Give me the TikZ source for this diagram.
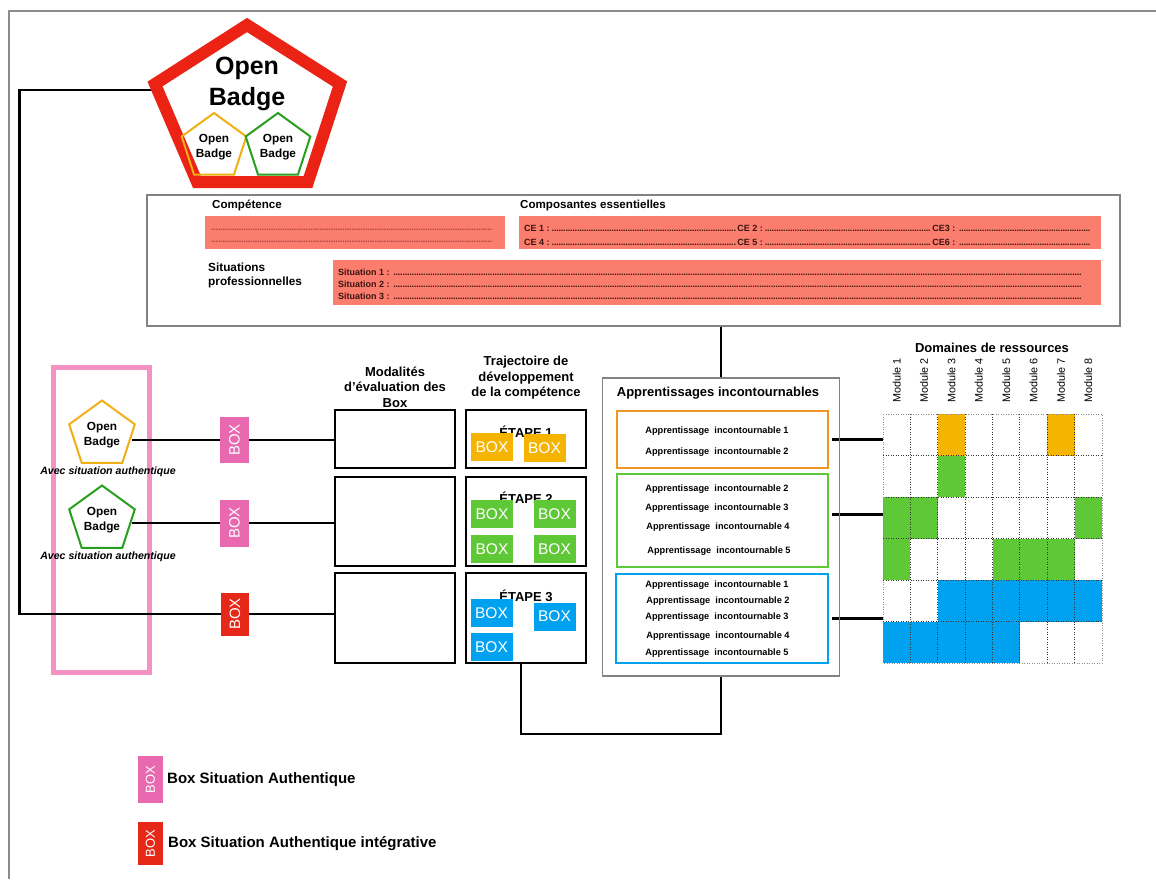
\documentclass[tikz,border=0pt]{standalone}
\usepackage{fontspec}
\setmainfont{Liberation Sans}
\usetikzlibrary{shapes.geometric,calc,backgrounds}
\definecolor{salmon}{RGB}{250,125,110}
\definecolor{bigred}{RGB}{235,35,20}
\definecolor{boxred}{RGB}{230,40,25}
\definecolor{pinkbox}{RGB}{232,105,175}
\definecolor{pinkframe}{RGB}{246,145,195}
\definecolor{ambr}{RGB}{245,180,0}
\definecolor{ybord}{RGB}{240,175,20}
\definecolor{grn}{RGB}{95,200,55}
\definecolor{gbord}{RGB}{40,160,30}
\definecolor{blu}{RGB}{0,162,240}
\definecolor{orbord}{RGB}{242,150,35}
\definecolor{gframe}{RGB}{130,130,130}
\definecolor{cetext}{RGB}{60,20,15}
\definecolor{lightdots}{RGB}{170,70,60}
\newcommand\dts{\leaders\hbox to 2.3pt{\hss.\hss}\hfill}
\begin{document}
\begin{tikzpicture}[x=1pt,y=-1pt,
  conn/.style={line width=2.2pt, black},
  badgeP/.style={regular polygon, regular polygon sides=5, minimum size=68pt, inner sep=0pt, line width=2pt, align=center, font=\fontsize{11.8}{15}\selectfont\bfseries},
  vbox/.style={rotate=90, inner sep=0pt, text=white, font=\fontsize{15}{15}\selectfont},
  smallbox/.style={minimum width=42pt, minimum height=28pt, inner sep=0pt, text=white, font=\fontsize{15.5}{15}\selectfont},
  blackbox/.style={draw=black, line width=2pt, inner sep=0pt, minimum width=120pt},
  greybox/.style={draw=gframe, line width=1.5pt, inner sep=0pt},
  lbl/.style={align=center, font=\fontsize{13}{15.5}\selectfont\bfseries},
  appt/.style={font=\fontsize{9.2}{9.2}\selectfont\bfseries},
  cet/.style={anchor=west, inner sep=0pt, text=cetext, font=\fontsize{9}{9}\selectfont\bfseries},
  gdot/.style={line width=1pt, dash pattern=on 1pt off 1.5pt, black!80},
  modlab/.style={anchor=west, rotate=90, inner sep=0pt, font=\fontsize{10.8}{10.8}\selectfont}
]
\useasboundingbox (0,0) rectangle (1156,879);
% outer frame
\draw[line width=1.5pt, black!45] (9,879) -- (9,11) -- (1156,11);

% big open badge
\draw[bigred, line width=12pt, line join=miter] (247,25) -- (340,84) -- (308,182) -- (197,182) -- (155,84) -- cycle;
\node[align=center, inner sep=0pt, font=\fontsize{25}{31}\selectfont\bfseries] (bigbadge) at (247,84) {Open\\Badge};
\node[badgeP, draw=ybord] (ysmall) at (214,147) {Open\\Badge};
\node[badgeP, draw=gbord] (gsmall) at (278,147) {Open\\Badge};
\coordinate (bigL) at (152,90);
\coordinate (trunk) at (19.5,614);

% competence box
\node[greybox, minimum width=973pt, minimum height=131pt] (comp) at (633.5,260.5) {};
\node[anchor=west, inner sep=0pt, font=\fontsize{11.6}{11.6}\selectfont\bfseries] (complbl) at (212,205) {Compétence};
\node[anchor=west, inner sep=0pt, font=\fontsize{11.6}{11.6}\selectfont\bfseries] (celbl) at (520,205) {Composantes essentielles};
\node[anchor=west, inner sep=0pt, align=left, font=\fontsize{11.8}{14}\selectfont\bfseries] (sitlbl) at (208,275) {Situations\\professionnelles};
\node[fill=salmon, minimum width=300pt, minimum height=33pt, inner sep=0pt] (r1) at (355,232.5) {};
\node[fill=salmon, minimum width=582pt, minimum height=33pt, inner sep=0pt] (r2) at (810,232.5) {};
\node[fill=salmon, minimum width=768pt, minimum height=45pt, inner sep=0pt] (r3) at (717,282.5) {};
\node[cet, text=lightdots] (d1) at (211,230) {\hbox to 282pt{\dts}};
\node[cet, text=lightdots] (d2) at (211,242) {\hbox to 282pt{\dts}};
\node[cet] (ce1) at (524,228) {\hbox to 568pt{\hbox to 213pt{CE 1 :\dts}\hbox to 195pt{CE 2 :\,\dts}CE3 :\,\dts}};
\node[cet] (ce2) at (524,242) {\hbox to 568pt{\hbox to 213pt{CE 4 :\,\dts}\hbox to 195pt{CE 5 :\,\dts}CE6 :\,\dts}};
\node[cet] (s1) at (338,272) {\hbox to 744pt{Situation 1 :\,\dts}};
\node[cet] (s2) at (338,284) {\hbox to 744pt{Situation 2 :\,\dts}};
\node[cet] (s3) at (338,296) {\hbox to 744pt{Situation 3 :\,\dts}};

% left column badges
\node[badgeP, draw=ybord, minimum size=69pt] (ybadge) at (102,435) {Open\\Badge};
\node[badgeP, draw=gbord, minimum size=69pt] (gbadge) at (102,520) {Open\\Badge};
\node[font=\fontsize{10.6}{11}\selectfont\bfseries\itshape, inner sep=0pt] (cap1) at (108,472) {Avec situation authentique};
\node[font=\fontsize{10.6}{11}\selectfont\bfseries\itshape, inner sep=0pt] (cap2) at (108,557) {Avec situation authentique};

% modalites and trajectoire
\node[lbl] (modlbl) at (395,387) {Modalités\\d’évaluation des\\Box};
\node[lbl] (trajlbl) at (526,378) {Trajectoire de\\développement\\de la compétence};
\node[blackbox, minimum height=58pt] (mod1) at (395,439) {};
\node[blackbox, minimum height=89pt] (mod2) at (395,521.5) {};
\node[blackbox, minimum height=90pt] (mod3) at (395,618) {};
\node[blackbox, minimum height=58pt] (traj1) at (526,439) {};
\node[blackbox, minimum height=89pt] (traj2) at (526,521.5) {};
\node[blackbox, minimum height=90pt] (traj3) at (526,618) {};
\node[lbl, inner sep=0pt] (et1) at (526,432) {ÉTAPE 1};
\node[lbl, inner sep=0pt] (et2) at (526,498) {ÉTAPE 2};
\node[lbl, inner sep=0pt] (et3) at (526,596) {ÉTAPE 3};
\node[smallbox, fill=ambr] (b11) at (492,447) {BOX};
\node[smallbox, fill=ambr] (b12) at (544.5,448) {BOX};
\node[smallbox, fill=grn] (b21) at (492,514) {BOX};
\node[smallbox, fill=grn] (b22) at (554.5,514) {BOX};
\node[smallbox, fill=grn] (b23) at (492,549) {BOX};
\node[smallbox, fill=grn] (b24) at (554.5,549) {BOX};
\node[smallbox, fill=blu] (b31) at (491.5,613) {BOX};
\node[smallbox, fill=blu] (b32) at (554.5,616.5) {BOX};
\node[smallbox, fill=blu] (b33) at (491.5,647) {BOX};

% BOX column
\node[vbox, fill=pinkbox, minimum width=46pt, minimum height=29pt] (pbox1) at (234.5,440) {BOX};
\node[vbox, fill=pinkbox, minimum width=47pt, minimum height=29pt] (pbox2) at (234.5,523) {BOX};
\node[vbox, fill=boxred, minimum width=43pt, minimum height=28pt] (rbox) at (235,614) {BOX};

% apprentissages
\node[greybox, minimum width=237pt, minimum height=298pt] (appr) at (721,527) {};
\node[inner sep=0pt, font=\fontsize{13}{13}\selectfont\bfseries] (apprlbl) at (718,393) {Apprentissages incontournables};
\node[draw=orbord, line width=2.2pt, minimum width=211pt, minimum height=57pt, inner sep=0pt] (obox) at (722.5,439.5) {};
\node[draw=grn, line width=2.2pt, minimum width=211pt, minimum height=93pt, inner sep=0pt] (gbox) at (722.5,520.5) {};
\node[draw=blu, line width=2.2pt, minimum width=212pt, minimum height=89pt, inner sep=0pt] (bbox) at (722,618.5) {};
\node[appt] (a11) at (717,431) {Apprentissage \ incontournable 1};
\node[appt] (a12) at (717,452) {Apprentissage \ incontournable 2};
\node[appt] (a21) at (717,489) {Apprentissage \ incontournable 2};
\node[appt] (a22) at (717,508) {Apprentissage \ incontournable 3};
\node[appt] (a23) at (718,527) {Apprentissage \ incontournable 4};
\node[appt] (a24) at (719,551) {Apprentissage \ incontournable 5};
\node[appt] (a31) at (717,585) {Apprentissage \ incontournable 1};
\node[appt] (a32) at (718,601) {Apprentissage \ incontournable 2};
\node[appt] (a33) at (717,617) {Apprentissage \ incontournable 3};
\node[appt] (a34) at (718,636) {Apprentissage \ incontournable 4};
\node[appt] (a35) at (717,653) {Apprentissage \ incontournable 5};

% grid
\node[minimum width=219pt, minimum height=249pt, inner sep=0pt] (grid) at (992.5,538.5) {};
\foreach \r/\c/\col in {1/3/ambr,1/7/ambr,2/3/grn,3/1/grn,3/2/grn,3/8/grn,4/1/grn,4/5/grn,4/6/grn,4/7/grn,5/3/blu,5/4/blu,5/5/blu,5/6/blu,5/7/blu,5/8/blu,6/1/blu,6/2/blu,6/3/blu,6/4/blu,6/5/blu}
  \fill[\col] ({883+(\c-1)*27.375},{414+(\r-1)*41.5}) rectangle ++(27.375,41.5);
\foreach \i in {1,...,7} \draw[gdot] ({883+\i*27.375},414) -- ++(0,249);
\foreach \j in {1,...,5} \draw[gdot] (883,{414+\j*41.5}) -- ++(219,0);
\draw[gdot, black!45] (883,414) rectangle (1102,663);
\foreach \i in {1,...,8} \node[modlab] (m\i) at ({883+(\i-0.5)*27.375},403) {Module \i};
\node[inner sep=0pt, font=\fontsize{13}{13}\selectfont\bfseries] (domlbl) at (992,348) {Domaines de ressources};

% legend
\node[vbox, fill=pinkbox, minimum width=47pt, minimum height=25pt, font=\fontsize{13}{13}\selectfont] (lbox1) at (150.5,779.5) {BOX};
\node[vbox, fill=boxred, minimum width=43pt, minimum height=25pt, font=\fontsize{13}{13}\selectfont] (lbox2) at (150.5,843.5) {BOX};
\node[anchor=west, inner sep=0pt, font=\fontsize{15}{15}\selectfont\bfseries] (leg1) at (167,780) {Box Situation Authentique};
\node[anchor=west, inner sep=0pt, font=\fontsize{15}{15}\selectfont\bfseries] (leg2) at (168,844) {Box Situation Authentique intégrative};

% background: pink frame and connectors
\begin{scope}[on background layer]
\fill[white] (0,0) rectangle (1156,879);
\draw[pinkframe, line width=4.5pt] (53.5,367.5) rectangle (149.5,672.5);
\draw[conn] (bigL) -| (trunk) -- (rbox) -- (rbox -| mod3.west);
\draw[conn] (ybadge.east |- pbox1) -- (pbox1) -- (pbox1 -| mod1.west);
\draw[conn] (gbadge.east |- pbox2) -- (pbox2) -- (pbox2 -| mod2.west);
\draw[conn] ($(traj3.south)+(-5,0)$) -- ++(0,70) -| (appr.south);
\draw[conn] (comp.south -| appr.north) -- (appr.north);
\draw[conn] ($(obox.east)+(3,0)$) -- (obox.east -| grid.west);
\draw[conn] ($(gbox.east)+(3,-6)$) -- ($(gbox.east -| grid.west)+(0,-6)$);
\draw[conn] ($(bbox.east)+(3,0)$) -- (bbox.east -| grid.west);
\end{scope}
\end{tikzpicture}
\end{document}
